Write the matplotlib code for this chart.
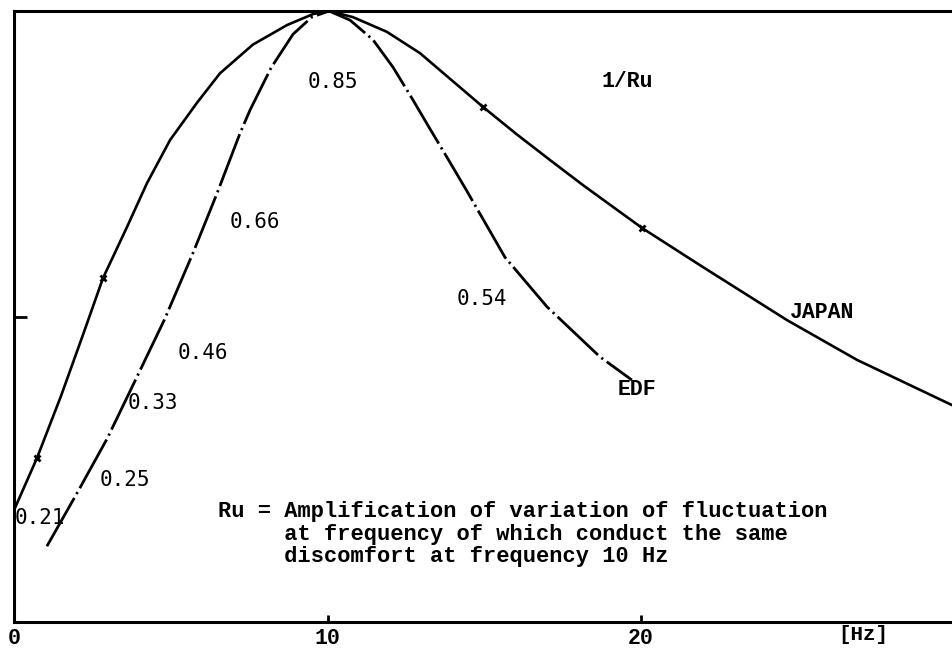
import numpy as np
import matplotlib
matplotlib.use('Agg')
import matplotlib.pyplot as plt

# Curvas 1/Ru (frecuencia en Hz, valor normalizado)
japan_hz = [0.0, 0.73, 1.5, 2.2, 2.84, 3.6, 4.24, 4.98, 5.84, 6.57, 7.62, 8.71, 9.54, 10.05,
            10.81, 11.89, 12.95, 14.0, 14.96, 16.04, 17.10, 18.15, 20.03, 21.88, 24.66, 26.89, 29.92]
japan_val = [0.183, 0.268, 0.370, 0.470, 0.563, 0.646, 0.718, 0.789, 0.850, 0.898, 0.945, 0.977, 0.995, 1.0,
             0.990, 0.966, 0.931, 0.885, 0.843, 0.798, 0.756, 0.715, 0.645, 0.584, 0.494, 0.429, 0.355]
japan_marcas_hz = [0.73, 2.84, 14.96, 20.03]
japan_marcas_val = [0.268, 0.563, 0.843, 0.645]

edf_hz = [1.05, 2.0, 2.97, 3.92, 4.8, 5.71, 6.48, 7.21, 7.53, 8.2, 8.9, 9.5, 10.05,
          10.72, 11.45, 12.09, 12.73, 13.27, 13.91, 14.45, 15.66, 17.0, 18.69, 19.71]
edf_val = [0.124, 0.210, 0.300, 0.401, 0.495, 0.604, 0.702, 0.800, 0.838, 0.907, 0.962, 0.990, 1.0,
           0.985, 0.953, 0.908, 0.854, 0.807, 0.752, 0.705, 0.597, 0.516, 0.434, 0.396]

# Etiquetas numericas sobre las curvas
etiquetas = ['0.85', '0.66', '0.54', '0.46', '0.33', '0.25', '0.21']
etiq_x = [10.18, 7.69, 14.93, 6.03, 4.43, 3.54, 0.83]
etiq_y = [0.884, 0.655, 0.529, 0.440, 0.358, 0.232, 0.170]

x_ticks = [0, 10, 20]
x_tick_labels = ['0', '10', '20']

mono = 'Liberation Mono'
sans_mono = 'DejaVu Sans Mono'

fig = plt.figure(figsize=(9.52, 6.5), dpi=100)
ax = fig.add_axes([14 / 952, 28 / 650, 1 - 14 / 952, (622 - 11) / 650])

ax.plot(japan_hz, japan_val, color='black', linewidth=1.9, solid_capstyle='round',
        solid_joinstyle='round')
ax.plot(japan_marcas_hz, japan_marcas_val, linestyle='none', marker='x',
        markersize=5, markeredgewidth=2, color='black')
ax.plot(edf_hz, edf_val, color='black', linewidth=2.0,
        linestyle=(0, (20, 1.6, 0.8, 1.6)))

for txt, xx, yy in zip(etiquetas, etiq_x, etiq_y):
    ax.text(xx, yy, txt, family=sans_mono, fontsize=15, ha='center', va='center')

ax.text(19.55, 0.884, '1/Ru', family=mono, fontsize=15.5, fontweight='bold', ha='center', va='center')
ax.text(25.77, 0.506, 'JAPAN', family=mono, fontsize=15.5, fontweight='bold', ha='center', va='center')
ax.text(19.87, 0.380, 'EDF', family=mono, fontsize=15.5, fontweight='bold', ha='center', va='center')

ax.text(6.51, 0.198,
        'Ru = Amplification of variation of fluctuation\n'
        '     at frequency of which conduct the same\n'
        '     discomfort at frequency 10 Hz',
        family=mono, fontsize=15.8, fontweight='bold', ha='left', va='top',
        linespacing=1.1)

ax.set_xlim(0, 29.92)
ax.set_ylim(0, 1)

ax.set_xticks(x_ticks)
ax.set_xticklabels(x_tick_labels, family=mono, fontsize=15.5, fontweight='bold')
ax.set_yticks([0.5])
ax.set_yticklabels([])
ax.tick_params(axis='x', direction='in', length=5, width=2, pad=4)
ax.tick_params(axis='y', direction='in', length=9, width=2)

ax.text(27.1, -0.005, '[Hz]', family=mono, fontsize=15, fontweight='bold',
        ha='center', va='top', transform=ax.transData, clip_on=False)

for lado in ['left', 'bottom', 'top']:
    ax.spines[lado].set_linewidth(2.2)
ax.spines['right'].set_visible(False)

fig.savefig('out.png', dpi=100)
